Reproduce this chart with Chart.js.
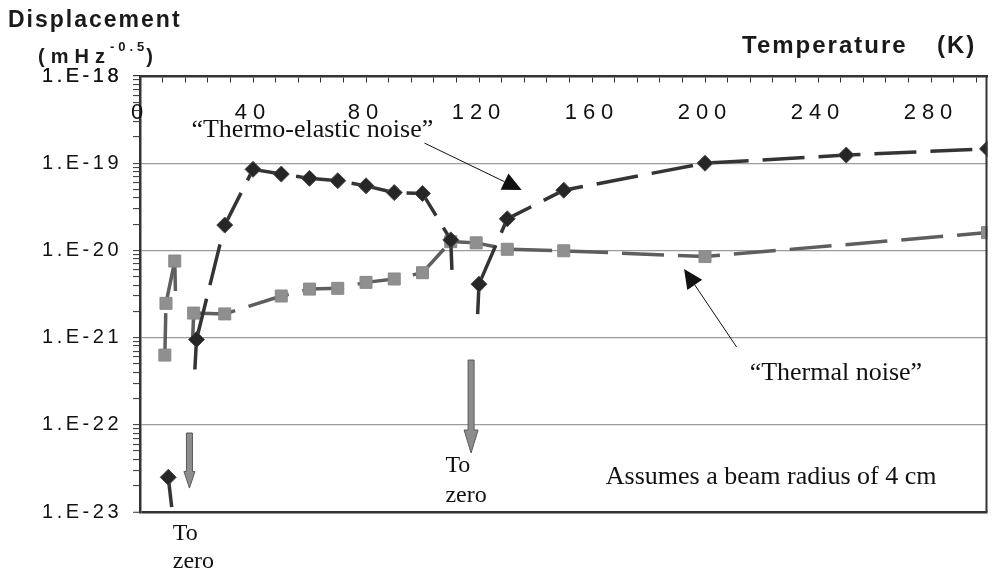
<!DOCTYPE html>
<html>
<head>
<meta charset="utf-8">
<script src="https://cdn.jsdelivr.net/npm/chart.js@4.4.1/dist/chart.umd.min.js"></script>
<style>
  html, body { margin: 0; padding: 0; background: #fff; }
  #wrap { width: 997px; height: 576px; position: relative; }
</style>
</head>
<body>
<div id="wrap"><canvas id="noiseChart"></canvas></div>
<script>
// Values. Temperatures in K, displacement in m/sqrt(Hz).
// ZERO stands for the points that drop "to zero": just under the axis floor.
const ZERO = 1e-24;

const TE_TEMPS  = [10, 15, 20, 30, 40, 50, 60, 70, 80, 90, 100, 110, 115, 120, 130, 150, 200, 250, 300];
const TE_VALUES = [2.5e-23, ZERO, 9.5e-22, 1.95e-20, 8.5e-20, 7.5e-20, 6.7e-20, 6.3e-20, 5.5e-20,
                   4.6e-20, 4.5e-20, 1.32e-20, ZERO, 4.1e-21, 2.3e-20, 4.9e-20, 1.0e-19, 1.24e-19, 1.46e-19];

const TN_TEMPS  = [8.8, 9.2, 12.3, 15, 19, 30, 50, 60, 70, 80, 90, 100, 110, 119, 130, 150, 200, 300];
const TN_VALUES = [6.3e-22, 2.47e-21, 7.55e-21, ZERO, 1.91e-21, 1.87e-21, 3.0e-21, 3.6e-21, 3.67e-21,
                   4.3e-21, 4.7e-21, 5.55e-21, 1.26e-20, 1.22e-20, 1.03e-20, 9.9e-21, 8.5e-21, 1.6e-20];

const X_TICK_LABELS = ['0', '40', '80', '120', '160', '200', '240', '280'];
const Y_TICK_LABELS = ['1.E-23', '1.E-22', '1.E-21', '1.E-20', '1.E-19', '1.E-18'];

// annotations, in data coordinates [T, value]
const CALLOUT_TEXTS  = ['\u201CThermo-elastic noise\u201D', '\u201CThermal noise\u201D'];
const CALLOUT_AT     = [[18.2, 2.0e-19], [215.8, 3.27e-22]];
const CALLOUT_FROM   = [[100.7, 1.7e-19], [211.2, 7.8e-22]];
const CALLOUT_TO     = [[135.1, 4.93e-20], [192.6, 6.1e-21]];
const NOTE_TEXT = 'Assumes a beam radius of 4 cm';
const NOTE_AT   = [164.9, 2.09e-23];
const ZERO_ARROW_T    = [17.5, 117.2];
const ZERO_ARROW_TOP  = [8.05e-23, 5.53e-22];
const ZERO_ARROW_TIP  = [1.88e-23, 4.75e-23];
const ZERO_LABEL_AT   = [[11.6, 4.78e-24, 2.28e-24], [108.1, 2.88e-23, 1.3e-23]];

const SANS = '"Liberation Sans", Arial, sans-serif';
const SERIF = '"Liberation Serif", "Times New Roman", serif';
const DASH = [42, 14];
const STUB = 30;

function mantissa(v) { return v / Math.pow(10, Math.floor(Math.log10(v) + 1e-9)); }
function isDecade(v) { const m = mantissa(v); return Math.abs(m - 1) < 1e-6 || Math.abs(m - 10) < 1e-6; }
function isOneFive(v) { return Math.abs(mantissa(v) - 1.5) < 1e-6; }

// lines into / out of a zero point only show a short stub next to the real point
function stubDash(values) {
  return c => {
    if (values[c.p1DataIndex] === ZERO) return [STUB, 5000];
    if (values[c.p0DataIndex] === ZERO) {
      const len = Math.hypot(c.p1.x - c.p0.x, c.p1.y - c.p0.y);
      return [0, Math.max(len - STUB, 0), STUB, 5000];
    }
    return DASH;
  };
}

function toPoints(temps, values) {
  return temps.map((t, i) => ({ x: t, y: values[i] }));
}

function drawCallout(ctx, p0, p1) {
  const ang = Math.atan2(p1[1] - p0[1], p1[0] - p0[0]);
  const L = 19, H = 9;
  const bx = p1[0] - L * Math.cos(ang), by = p1[1] - L * Math.sin(ang);
  ctx.beginPath();
  ctx.moveTo(p0[0], p0[1]);
  ctx.lineTo(bx, by);
  ctx.stroke();
  ctx.beginPath();
  ctx.moveTo(p1[0], p1[1]);
  ctx.lineTo(bx + H * Math.sin(ang), by - H * Math.cos(ang));
  ctx.lineTo(bx - H * Math.sin(ang), by + H * Math.cos(ang));
  ctx.closePath();
  ctx.fill();
}

function drawZeroArrow(ctx, x, yTop, yTip) {
  const sw = 3;
  const head = Math.min(23, (yTip - yTop) * 0.3);
  const half = head > 18 ? 7 : 5.5;
  ctx.beginPath();
  ctx.moveTo(x - sw, yTop);
  ctx.lineTo(x + sw, yTop);
  ctx.lineTo(x + sw, yTip - head);
  ctx.lineTo(x + half, yTip - head);
  ctx.lineTo(x, yTip);
  ctx.lineTo(x - half, yTip - head);
  ctx.lineTo(x - sw, yTip - head);
  ctx.closePath();
  ctx.fillStyle = '#8d8d8d';
  ctx.fill();
  ctx.strokeStyle = '#5a5a5a';
  ctx.lineWidth = 1;
  ctx.stroke();
}

const decorations = {
  id: 'decorations',
  beforeDraw(chart) { chart.ctx.letterSpacing = '3.5px'; },
  afterDatasetsDraw(chart) { chart.ctx.letterSpacing = '6px'; },
  afterDraw(chart) {
    const { ctx, chartArea, scales: { x, y } } = chart;
    const px = (t, v) => [x.getPixelForValue(t), y.getPixelForValue(v)];
    ctx.save();

    // right frame
    ctx.strokeStyle = '#333';
    ctx.lineWidth = 2;
    ctx.beginPath();
    ctx.moveTo(chartArea.right - 1, chartArea.top);
    ctx.lineTo(chartArea.right - 1, chartArea.bottom);
    ctx.stroke();

    // axis titles
    ctx.fillStyle = '#1a1a1a';
    ctx.textAlign = 'left';
    ctx.textBaseline = 'alphabetic';
    ctx.letterSpacing = '2px';
    ctx.font = 'bold 23px ' + SANS;
    ctx.fillText('Displacement', 8, 27);
    ctx.font = 'bold 24px ' + SANS;
    ctx.fillText('Temperature', 742, 53);
    ctx.fillText('(K)', 937, 53);
    ctx.letterSpacing = '6px';
    ctx.font = 'bold 20px ' + SANS;
    ctx.fillText('(mHz', 38, 63);
    const w1 = ctx.measureText('(mHz').width;
    ctx.letterSpacing = '4px';
    ctx.font = 'bold 13px ' + SANS;
    ctx.fillText('-0.5', 38 + w1 - 1, 51);
    const w2 = ctx.measureText('-0.5').width;
    ctx.letterSpacing = '0px';
    ctx.font = 'bold 20px ' + SANS;
    ctx.fillText(')', 38 + w1 + w2 - 3, 63);

    // callouts
    ctx.font = '26px ' + SERIF;
    ctx.fillStyle = '#111';
    ctx.strokeStyle = '#111';
    ctx.lineWidth = 1;
    CALLOUT_TEXTS.forEach((txt, i) => {
      const [tx, ty] = px(...CALLOUT_AT[i]);
      ctx.fillText(txt, tx, ty);
      drawCallout(ctx, px(...CALLOUT_FROM[i]), px(...CALLOUT_TO[i]));
    });
    const [nx, ny] = px(...NOTE_AT);
    ctx.fillText(NOTE_TEXT, nx, ny);

    // "To zero" arrows
    ZERO_ARROW_T.forEach((t, i) => {
      const xp = x.getPixelForValue(t);
      drawZeroArrow(ctx, xp, y.getPixelForValue(ZERO_ARROW_TOP[i]), y.getPixelForValue(ZERO_ARROW_TIP[i]));
      const [lt, v1, v2] = ZERO_LABEL_AT[i];
      ctx.fillStyle = '#111';
      ctx.font = '24px ' + SERIF;
      ctx.fillText('To', x.getPixelForValue(lt), y.getPixelForValue(v1));
      ctx.fillText('zero', x.getPixelForValue(lt), y.getPixelForValue(v2));
    });

    ctx.restore();
  }
};

new Chart(document.getElementById('noiseChart'), {
  type: 'line',
  data: {
    datasets: [
      {
        label: 'Thermo-elastic noise',
        data: toPoints(TE_TEMPS, TE_VALUES),
        borderColor: '#343434',
        borderWidth: 3.5,
        borderDash: DASH,
        pointStyle: 'rectRot',
        pointRadius: c => TE_VALUES[c.dataIndex] === ZERO ? 0 : 8,
        pointBackgroundColor: '#262626',
        pointBorderColor: '#4a4a4a',
        pointBorderWidth: 1,
        tension: 0,
        fill: false,
        segment: { borderDash: stubDash(TE_VALUES) },
      },
      {
        label: 'Thermal noise',
        data: toPoints(TN_TEMPS, TN_VALUES),
        borderColor: '#5e5e5e',
        borderWidth: 3.5,
        borderDash: DASH,
        pointStyle: 'rect',
        pointRadius: c => TN_VALUES[c.dataIndex] === ZERO ? 0 : 8.5,
        pointBackgroundColor: '#8f8f8f',
        pointBorderColor: '#8a8a8a',
        pointBorderWidth: 1,
        tension: 0,
        fill: false,
        segment: { borderDash: stubDash(TN_VALUES) },
      },
    ],
  },
  options: {
    responsive: true,
    maintainAspectRatio: false,
    animation: false,
    layout: { padding: { top: 76, right: 2, bottom: 64, left: 0 } },
    plugins: { legend: { display: false }, tooltip: { enabled: false } },
    scales: {
      x: {
        type: 'linear',
        position: { y: 1e-18 },
        min: 0,
        max: 300,
        border: { display: true, color: '#333', width: 2.5 },
        grid: { drawOnChartArea: false, drawTicks: true, tickLength: 5, tickColor: '#333', tickWidth: 1 },
        ticks: {
          z: 1,
          stepSize: 8,
          autoSkip: false,
          maxRotation: 0,
          includeBounds: false,
          padding: 19,
          color: '#111',
          font: { family: SANS, size: 22 },
          callback: v => (v % 40 === 0 ? X_TICK_LABELS[v / 40] : ''),
        },
      },
      y: {
        type: 'logarithmic',
        position: 'left',
        min: 1e-23,
        max: 1e-18,
        afterFit: s => { s.width = 140; },
        border: { display: true, color: '#333', width: 2.5 },
        grid: {
          color: c => {
            const v = c.tick.value;
            if (!isDecade(v)) return 'rgba(0,0,0,0)';
            return v < 2e-23 ? '#333' : '#9b9b9b';
          },
          lineWidth: c => (c.tick.value < 2e-23 ? 2.5 : 1.2),
          tickColor: c => (isOneFive(c.tick.value) ? 'rgba(0,0,0,0)' : '#333'),
          tickLength: 7,
          tickWidth: 1,
        },
        ticks: {
          autoSkip: false,
          padding: 11,
          color: '#111',
          font: { family: SANS, size: 20 },
          callback: v => (isDecade(v) ? Y_TICK_LABELS[Math.round(Math.log10(v)) + 23] : ''),
        },
      },
    },
  },
  plugins: [decorations],
});
</script>
</body>
</html>
